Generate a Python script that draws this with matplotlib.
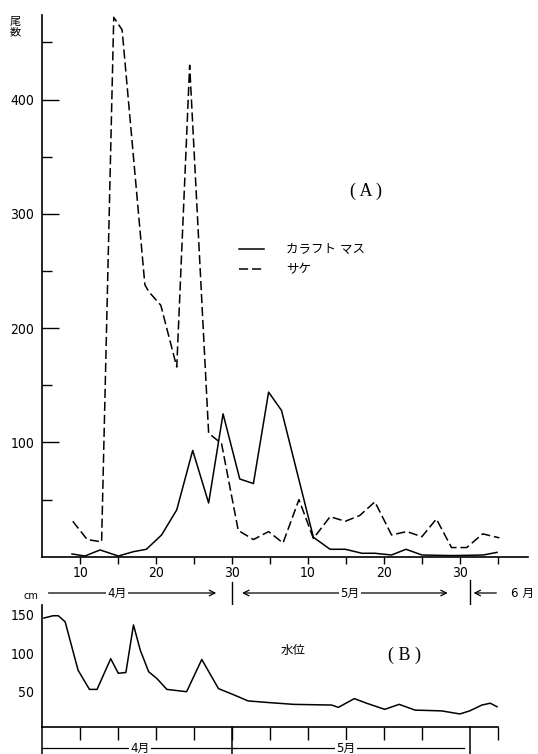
import numpy as np
import matplotlib.pyplot as plt
from matplotlib import font_manager
from matplotlib.lines import Line2D
from matplotlib.transforms import blended_transform_factory

plt.rcParams['font.family'] = ['DejaVu Sans', 'Noto Sans CJK JP']
names = {f.name for f in font_manager.fontManager.ttflist}
num_font = 'Liberation Sans Narrow' if 'Liberation Sans Narrow' in names else 'DejaVu Sans'

# (A) catch counts; day counted from 1 April (1 May = 31)
masu_day = [8.9, 10.6, 12.6, 15.0, 17.0, 18.7, 20.7, 22.7, 24.8, 26.9, 28.8, 31.0,
            32.8, 34.8, 36.5, 40.7, 42.9, 44.9, 47.1, 48.8, 51.0, 52.9, 55.0,
            57.0, 59.0, 61.0, 63.1, 64.9]
masu_n = [2.4, 0.6, 5.9, 0.6, 4.4, 6.5, 19, 41, 93, 47, 125, 68,
          64, 144, 128, 17, 6.5, 6.5, 3, 3, 1.5, 6.5, 1.5,
          1.2, 1.0, 1.2, 1.5, 3.8]
sake_day = [9.0, 10.9, 12.8, 14.4, 15.5, 18.5, 19.0, 20.6, 22.7, 24.4, 26.9, 28.6,
            30.8, 32.8, 34.8, 36.7, 38.8, 40.7, 42.9, 44.9, 46.8, 48.8, 51.0,
            53.0, 55.0, 56.9, 58.9, 60.9, 63.0, 65.2]
sake_n = [31, 15, 13, 472, 461, 238, 232, 220, 166, 430, 108, 99,
          23, 15, 22, 12, 50, 16, 35, 31, 36, 48, 19,
          22, 17.5, 33, 8, 8, 20, 16.5]

# (B) water level, cm
level_day = [5.2, 6.4, 7.1, 8.0, 9.7, 11.2, 12.2, 14.0, 15.0, 16.0, 17.0, 17.9,
             19.0, 20.1, 21.4, 24.0, 26.0, 28.2, 30.2, 32.1, 34.6, 38.1, 43.1,
             44.0, 46.1, 47.7, 50.1, 52.0, 54.1, 57.6, 60.0, 61.3, 62.9, 64.0, 64.9]
level_cm = [146, 149, 149, 141, 78, 53, 53, 93, 74, 75, 137, 104,
            76, 67, 53, 50, 92, 54, 46, 38, 36, 33.5, 32.6,
            29.6, 41, 35, 27, 33.5, 26, 25, 21, 25, 32.6, 35, 30.4]

a_major = [10, 20, 30, 40, 50, 60]
a_labels = ['10', '20', '30', '10', '20', '30']
a_minor = [15, 25, 35, 45, 55, 65]
b_ticks = [10, 15, 20, 25, 30, 35, 40, 45, 50, 55, 65]

W, H = 538, 754
fig = plt.figure(figsize=(W / 100, H / 100), dpi=100)

def px(x0, y0, x1, y1):
    return [x0 / W, 1 - y1 / H, (x1 - x0) / W, (y1 - y0) / H]

lw = 1.1
# ---------------- panel A
axA = fig.add_axes(px(42.4, 15, 528.2, 556.7))
axA.plot(masu_day, masu_n, color='black', lw=lw)
axA.plot(sake_day, sake_n, color='black', lw=lw, dashes=(6, 2.5))
axA.set_xlim(5, 69)
axA.set_ylim(0, 474)
for s in ['top', 'right']:
    axA.spines[s].set_visible(False)
for s in ['left', 'bottom']:
    axA.spines[s].set_linewidth(1.2)
axA.set_xticks(a_major)
axA.set_xticklabels(a_labels, fontfamily=num_font, fontsize=10, fontstretch='condensed')
axA.set_xticks(a_minor, minor=True)
axA.tick_params(axis='x', which='both', direction='out', length=5, width=1, pad=2)
axA.set_yticks([100, 200, 300, 400])
axA.set_yticklabels(['100', '200', '300', '400'], fontfamily=num_font, fontsize=10,
                    fontstretch='condensed')
axA.set_yticks([50, 150, 250, 350, 450], minor=True)
axA.tick_params(axis='y', which='major', direction='in', length=12, width=1, pad=6)
axA.tick_params(axis='y', which='minor', direction='in', length=7, width=1)

fig.text(15 / W, 1 - 27 / H, '尾\n数', fontsize=8, ha='center', va='center', linespacing=1.1)
fig.text(366 / W, 1 - 191 / H, '( A )', fontsize=13, ha='center', va='center',
         family='Liberation Serif')

handles = [Line2D([], [], color='black', lw=lw),
           Line2D([], [], color='black', lw=lw, dashes=(6, 2.5))]
fig.legend(handles, ['カラフト マス', 'サケ'], loc='upper left',
           bbox_to_anchor=(239 / W, 1 - 243 / H), frameon=False, fontsize=9,
           handlelength=2.0, handletextpad=1.8, labelspacing=0.55,
           borderpad=0, borderaxespad=0)

# month row under (A)
tA = blended_transform_factory(axA.transData, fig.transFigure)
ym = 1 - 593 / H
arr = dict(arrowstyle='->', lw=0.9, color='black', shrinkA=0, shrinkB=0)
axA.annotate('', xy=(27.9, ym), xytext=(5.8, ym), xycoords=tA, textcoords=tA, arrowprops=arr)
axA.annotate('', xy=(31.3, ym), xytext=(45, ym), xycoords=tA, textcoords=tA, arrowprops=arr)
axA.annotate('', xy=(58.4, ym), xytext=(45, ym), xycoords=tA, textcoords=tA, arrowprops=arr)
axA.annotate('', xy=(61.8, ym), xytext=(64.8, ym), xycoords=tA, textcoords=tA, arrowprops=arr)
bb = dict(facecolor='white', edgecolor='none', pad=1)
axA.text(14.8, ym, '4月', transform=tA, fontsize=8.5, ha='center', va='center', bbox=bb)
axA.text(45.5, ym, '5月', transform=tA, fontsize=8.5, ha='center', va='center', bbox=bb)
axA.text(68.3, ym, '6 月', transform=tA, fontsize=8.5, ha='center', va='center')
for d, y0, y1 in [(30, 582, 606), (61.3, 580, 610)]:
    axA.add_line(Line2D([d, d], [1 - y0 / H, 1 - y1 / H], transform=tA,
                        color='black', lw=1, clip_on=False))
fig.text(31 / W, 1 - 596 / H, 'cm', fontsize=7, ha='center', va='center')

# ---------------- panel B
axB = fig.add_axes(px(42.4, 605, 497.8, 727.3))
axB.plot(level_day, level_cm, color='black', lw=lw)
axB.set_xlim(5, 65)
axB.set_ylim(3.6, 163)
for s in ['top', 'right']:
    axB.spines[s].set_visible(False)
for s in ['left', 'bottom']:
    axB.spines[s].set_linewidth(1.2)
axB.set_yticks([50, 100, 150])
axB.set_yticklabels(['50', '100', '150'], fontfamily=num_font, fontsize=10,
                    fontstretch='condensed')
axB.tick_params(axis='y', length=0, pad=6)
axB.set_xticks(b_ticks)
axB.set_xticklabels([])
axB.tick_params(axis='x', direction='out', length=9, width=1)

tB = blended_transform_factory(axB.transData, fig.transFigure)
ybase = 1 - 727.3 / H
for d in [5, 30, 61.3]:
    axB.add_line(Line2D([d, d], [ybase, 0], transform=tB, color='black', lw=1.1, clip_on=False))
yb = 1 - 748.3 / H
axB.add_line(Line2D([5, 30], [yb, yb], transform=tB, color='black', lw=0.9, clip_on=False))
axB.add_line(Line2D([30, 60.6], [yb, yb], transform=tB, color='black', lw=0.9, clip_on=False))
axB.text(17.9, yb, '4月', transform=tB, fontsize=8.5, ha='center', va='center', bbox=bb)
axB.text(45, yb, '5月', transform=tB, fontsize=8.5, ha='center', va='center', bbox=bb)

fig.text(293 / W, 1 - 650 / H, '水位', fontsize=9, ha='center', va='center')
fig.text(405 / W, 1 - 655 / H, '( B )', fontsize=13, ha='center', va='center',
         family='Liberation Serif')

fig.savefig('out.png', dpi=100)
